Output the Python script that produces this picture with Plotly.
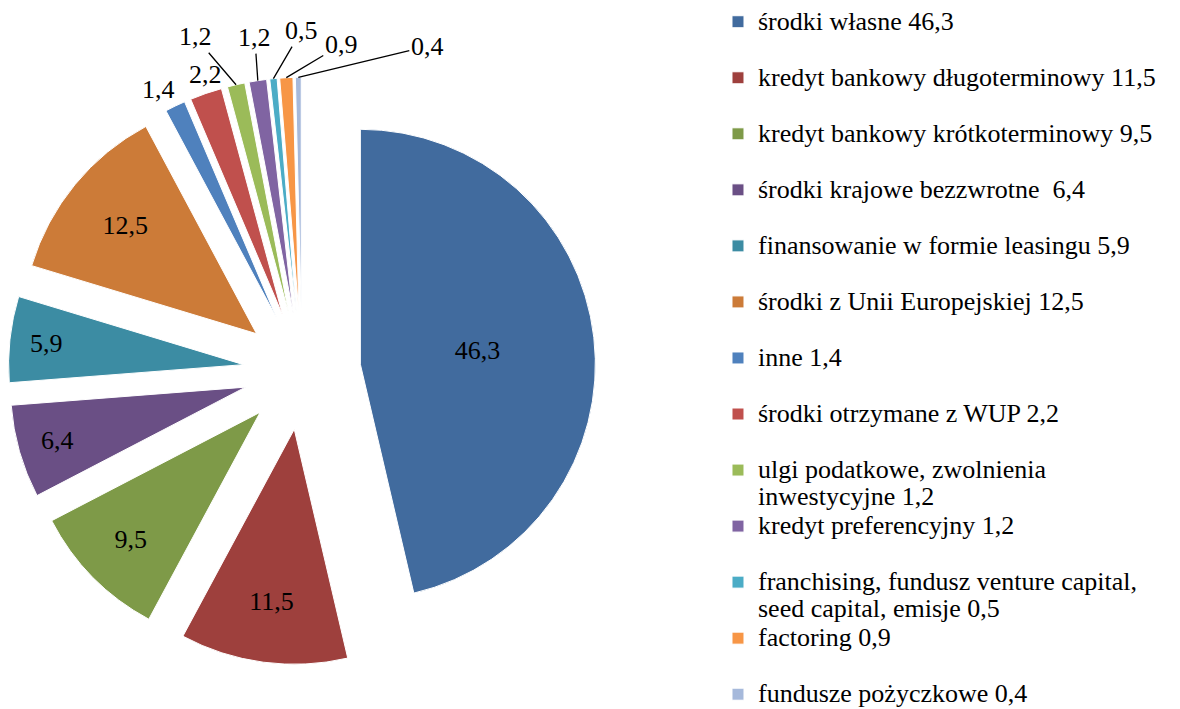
import math
import plotly.graph_objects as go

labels = [
    "środki własne 46,3",
    "kredyt bankowy długoterminowy 11,5",
    "kredyt bankowy krótkoterminowy 9,5",
    "środki krajowe bezzwrotne  6,4",
    "finansowanie w formie leasingu 5,9",
    "środki z Unii Europejskiej 12,5",
    "inne 1,4",
    "środki otrzymane z WUP 2,2",
    "ulgi podatkowe, zwolnienia<br>inwestycyjne 1,2",
    "kredyt preferencyjny 1,2",
    "franchising, fundusz venture capital,<br>seed capital, emisje 0,5",
    "factoring 0,9",
    "fundusze pożyczkowe 0,4",
]
values = [46.3, 11.5, 9.5, 6.4, 5.9, 12.5, 1.4, 2.2, 1.2, 1.2, 0.5, 0.9, 0.4]
colors = ["#416B9E", "#9E403D", "#7E9A48", "#6A4F85", "#3C8CA3", "#CC7B38",
          "#4F81BD", "#C0504D", "#9BBB59", "#8064A2", "#4BACC6", "#F79646", "#A6B9DB"]

# label placement style: big slices labelled inside; small slices get
# external labels (pixel offset from the slice's outer edge, leader line or not)
inside = [True] * 6 + [False] * 7
ext_offsets = {6: (-17, -17, False), 7: (0, -19, False), 8: (-41, -48, True),
               9: (-3, -43, True), 10: (28, -48, True), 11: (55, -33, True),
               12: (129, -31, True)}

FONT = "Liberation Serif, Times New Roman, serif"
TEXT_PX = 26        # visible text size
LINE_BASE = 20.4    # base legend font size -> controls line spacing
W, H = 1172, 701
PULL = 0.25
DOM_X = [0.0002, 0.5015]
DOM_Y = [0.0631, 0.9012]


def fmt(v):
    return f"{v:.1f}".replace(".", ",")


def legend_entry(i, label):
    lines = label.split("<br>")
    if len(lines) == 1 and i != len(labels) - 1:
        lines.append(" ")
    return "<br>".join(f"<span style='font-size:{TEXT_PX}px'>{ln}</span>" for ln in lines)


legend_text = [legend_entry(i, l) for i, l in enumerate(labels)]

fig = go.Figure(go.Pie(
    labels=legend_text,
    values=values,
    sort=False,
    direction="clockwise",
    rotation=0,
    pull=[PULL] * len(values),
    marker=dict(colors=colors, line=dict(color="white", width=1)),
    texttemplate="%{value:.1f}",
    textposition=["inside" if f else "none" for f in inside],
    insidetextorientation="horizontal",
    textfont=dict(family=FONT, size=TEXT_PX, color="black"),
    domain=dict(x=DOM_X, y=DOM_Y),
    hoverinfo="value",
))

# geometry of the pie as plotly lays it out (from the domain and pull)
bw = (DOM_X[1] - DOM_X[0]) * W
bh = (DOM_Y[1] - DOM_Y[0]) * H
r = min(bw, bh) / (2 + 2 * PULL)
cx = (DOM_X[0] + DOM_X[1]) / 2 * W
cy = (1 - (DOM_Y[0] + DOM_Y[1]) / 2) * H
total = sum(values)

annotations = []
cum = 0.0
for i, v in enumerate(values):
    mid = (cum + v / 2) / total * 2 * math.pi
    cum += v
    if inside[i]:
        continue
    dist = r * (1 + PULL)
    px = cx + dist * math.sin(mid)
    py = cy - dist * math.cos(mid)
    ox, oy, line = ext_offsets[i]
    annotations.append(dict(
        x=px / W, y=1 - py / H, xref="paper", yref="paper",
        text=fmt(v), font=dict(family=FONT, size=TEXT_PX, color="black"),
        showarrow=True, ax=ox, ay=oy, arrowhead=0, arrowwidth=1.3,
        arrowcolor="black" if line else "rgba(0,0,0,0)",
        standoff=0, startstandoff=0,
    ))

fig.update_layout(
    width=W, height=H,
    margin=dict(l=0, r=0, t=0, b=0, autoexpand=False),
    paper_bgcolor="white",
    plot_bgcolor="white",
    separators=", ",
    font=dict(family=FONT, size=LINE_BASE, color="black"),
    annotations=annotations,
    legend=dict(
        x=0.6058, y=1.0086, xanchor="left", yanchor="top",
        valign="top",
        maxheight=760,
        font=dict(family=FONT, size=LINE_BASE, color="black"),
        bgcolor="rgba(0,0,0,0)",
    ),
)

fig.write_html("out.html")
